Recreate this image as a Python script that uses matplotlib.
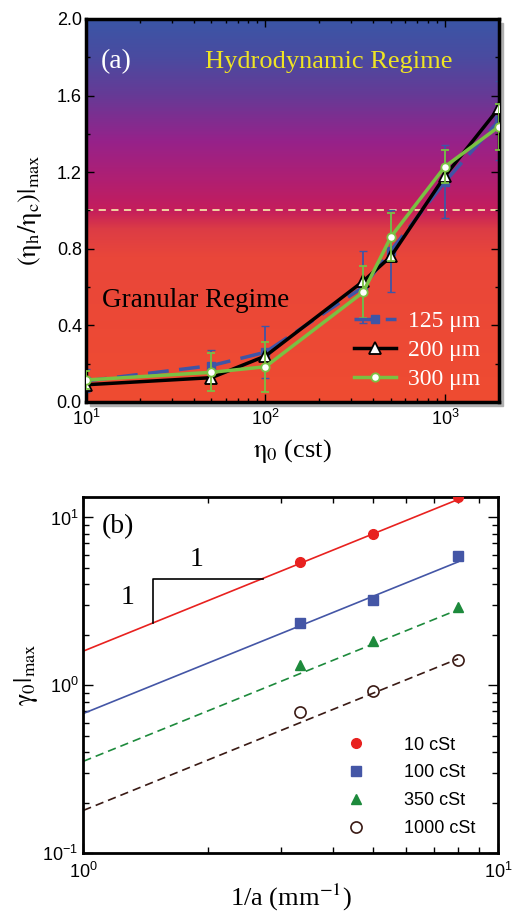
import numpy as np
import matplotlib
matplotlib.use("Agg")
import matplotlib.pyplot as plt
from matplotlib.colors import LinearSegmentedColormap
from matplotlib.patches import Rectangle
from matplotlib.ticker import MultipleLocator, LogLocator, NullFormatter

plt.rcParams['font.family'] = ['Liberation Sans', 'DejaVu Sans']
plt.rcParams['mathtext.fontset'] = 'stix'

# ---------------- Panel (a) data ----------------
eta0 = [10, 50, 100, 350, 500, 1000, 2000]
r125 = [0.11, 0.19, 0.26, 0.60, 0.79, 1.15, 1.47]
e125 = [0.06, 0.08, 0.135, 0.19, 0.215, 0.19, 0.205]
r200 = [0.09, 0.127, 0.24, 0.63, 0.76, 1.18, 1.535]
r300 = [0.115, 0.155, 0.184, 0.573, 0.862, 1.229, 1.438]
e300 = [0.045, 0.10, 0.13, 0.135, 0.125, 0.085, 0.12]
labels_a = ['125 μm', '200 μm', '300 μm']

# ---------------- Panel (b) data ----------------
inv_a = [3.33, 5.0, 8.0]
g10 = [5.43, 7.96, 13.3]
g100 = [2.35, 3.24, 5.86]
g350 = [1.315, 1.83, 2.91]
g1000 = [0.695, 0.93, 1.42]
fit_pref = [1.6, 0.68, 0.353, 0.18]   # prefactors of slope-1 fits
fit_range = [1.0, 8.0]
labels_b = ['10 cSt', '100 cSt', '350 cSt', '1000 cSt']

fig = plt.figure(figsize=(5.13, 9.13), dpi=100)

serif = ['Liberation Serif', 'DejaVu Serif']

# ======== Panel (a) ========
pos_a = [0.1676, 0.5597, 0.805, 0.4195]
ax = fig.add_axes(pos_a)
ax.set_zorder(2)
# drop shadow (behind the axes)
shadow = Rectangle((pos_a[0] + 0.007, pos_a[1] - 0.004), pos_a[2], pos_a[3],
                   transform=fig.transFigure, color='#b0b0b0', zorder=-10)
fig.patches.append(shadow)
ax.set_xscale('log')
ax.set_xlim(10, 2000)
ax.set_ylim(0, 2.0)

# background gradient (bottom -> top)
cmap = LinearSegmentedColormap.from_list('bg', [
    (0.00, '#ef4c31'), (0.38, '#e9463a'), (0.45, '#dc3c45'),
    (0.50, '#c41d5c'), (0.58, '#b01f72'), (0.68, '#96228a'),
    (0.80, '#663a96'), (0.90, '#4a4ba0'), (1.00, '#3a56a6')])
grad = np.linspace(0, 1, 256).reshape(-1, 1)
ax.imshow(grad, extent=[0, 1, 0, 1], transform=ax.transAxes, origin='lower',
          aspect='auto', cmap=cmap, zorder=0)

ax.axhline(1.0, color='#f3e2a6', ls=(0, (4, 3)), lw=1.3, zorder=1)

h125 = ax.errorbar(eta0, r125, yerr=e125, color='#3f55a6', ls=(0, (6, 3)), lw=2.5,
                   marker='s', ms=6, capsize=3, elinewidth=1.3, zorder=2)
h200, = ax.plot(eta0, r200, color='black', lw=2.5, marker='^', ms=9, mfc='white',
                mec='black', mew=1.3, zorder=3)
h300 = ax.errorbar(eta0, r300, yerr=e300, color='#7ac142', lw=2.5, marker='o', ms=6,
                   mfc='white', mec='#7ac142', mew=1.3, capsize=3, elinewidth=1.3,
                   zorder=4)

ax.text(0.035, 0.888, '(a)', transform=ax.transAxes, color='white', fontsize=20,
        family=serif, va='center')
ax.text(0.588, 0.888, 'Hydrodynamic Regime', transform=ax.transAxes,
        color='#efe423', fontsize=19, family=serif, ha='center', va='center')
ax.text(0.038, 0.265, 'Granular Regime', transform=ax.transAxes,
        color='black', fontsize=19.5, family=serif, va='center')

ax.legend([h125[0], h200, h300[0]], labels_a, loc='lower right',
          bbox_to_anchor=(1.005, -0.025), frameon=False,
          prop={'family': serif, 'size': 17}, labelcolor='white',
          handlelength=1.75, handletextpad=0.5, labelspacing=0.32)

ax.yaxis.set_major_locator(MultipleLocator(0.4))
ax.yaxis.set_minor_locator(MultipleLocator(0.2))
ax.yaxis.set_major_formatter(matplotlib.ticker.FormatStrFormatter('%.1f'))
ax.tick_params(which='both', direction='in', top=True, right=True, labelsize=13)
ax.tick_params(which='major', length=6, width=1, pad=3)
ax.tick_params(which='minor', length=3, width=1)
ax.tick_params(axis='x', which='major', pad=5)
for s in ax.spines.values():
    s.set_linewidth(2.5)
ax.set_xlabel(r'$\mathrm{\eta_0}$ (cst)', family=serif, fontsize=19, labelpad=6)
ax.set_ylabel(r'$\mathrm{(\eta_h/\eta_c)|_{max}}$', family=serif, fontsize=19,
              labelpad=9)

# ======== Panel (b) ========
bx = fig.add_axes([0.1624, 0.0654, 0.809, 0.3906])
bx.set_xscale('log')
bx.set_yscale('log')
bx.set_xlim(1, 10)
bx.set_ylim(0.1, 13.3)

xf = np.array(fit_range)
fit_styles = [('#e8211f', '-'), ('#4456a6', '-'), ('#1d8a3c', (0, (5, 3))),
              ('#3a1a14', (0, (5, 3)))]
for p, (c, ls) in zip(fit_pref, fit_styles):
    bx.plot(xf, p * xf, color=c, ls=ls, lw=1.2, zorder=2)

bx.plot(inv_a, g10, ls='none', marker='o', ms=7, color='#e8211f',
        label=labels_b[0], zorder=3)
bx.plot(inv_a, g100, ls='none', marker='s', ms=7, color='#4456a6',
        label=labels_b[1], zorder=3)
bx.plot(inv_a, g350, ls='none', marker='^', ms=7, color='#1d8a3c',
        label=labels_b[2], zorder=3)
bx.plot(inv_a, g1000, ls='none', marker='o', ms=8, mfc='none', mec='#3a1a14',
        mew=1.2, label=labels_b[3], zorder=3)

# slope triangle
bx.plot([1.47, 1.47, 2.71], [2.35, 4.32, 4.32], color='black', lw=1.2)
bx.text(1.875, 5.6, '1', family=serif, fontsize=20, ha='center', va='center')
bx.text(1.28, 3.33, '1', family=serif, fontsize=20, ha='center', va='center')
bx.text(1.21, 8.8, '(b)', family=serif, fontsize=20, ha='center', va='center')

bx.legend(loc='lower right', bbox_to_anchor=(0.985, 0.0), frameon=False,
          fontsize=13, handlelength=1.0, handletextpad=2.2, labelspacing=0.6)

bx.tick_params(which='both', direction='in', top=True, right=True, labelsize=13)
bx.tick_params(which='major', length=7, width=1)
bx.tick_params(which='minor', length=4, width=1)
bx.tick_params(axis='x', which='major', pad=6)
bx.yaxis.set_minor_locator(LogLocator(base=10, subs=np.arange(2, 10)))
bx.yaxis.set_minor_formatter(NullFormatter())
bx.xaxis.set_minor_formatter(NullFormatter())
for s in bx.spines.values():
    s.set_linewidth(2)
bx.set_xlabel(r'1/a (mm$^{\mathrm{-1}}$)', family=serif, fontsize=19, labelpad=0)
bx.set_ylabel(r'$\mathrm{\gamma_0|_{max}}$', family=serif, fontsize=19, labelpad=2)

fig.savefig('out.png', dpi=100)
